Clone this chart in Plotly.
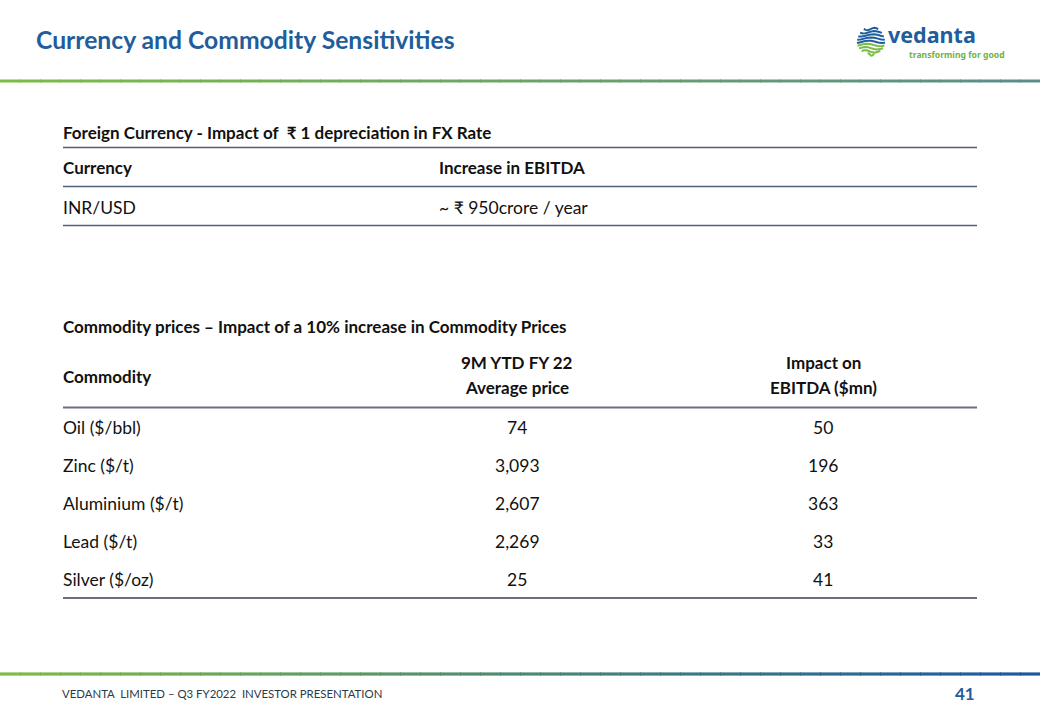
import plotly.graph_objects as go
import math

# ---------------- data ----------------
title = "Currency and Commodity Sensitivities"
fx_caption = "Foreign Currency - Impact of  ₹ 1 depreciation in FX Rate"
fx_headers = ["Currency", "Increase in EBITDA"]
fx_rows = [["INR/USD", "~ ₹ 950crore / year"]]

cm_caption = "Commodity prices – Impact of a 10% increase in Commodity Prices"
cm_header_first = "Commodity"
cm_header_price = ["9M YTD FY 22", "Average price"]
cm_header_impact = ["Impact on", "EBITDA ($mn)"]
commodities = ["Oil ($/bbl)", "Zinc ($/t)", "Aluminium ($/t)", "Lead ($/t)", "Silver ($/oz)"]
avg_price = ["74", "3,093", "2,607", "2,269", "25"]
ebitda_impact = ["50", "196", "363", "33", "41"]

footer_text = "VEDANTA  LIMITED – Q3 FY2022  INVESTOR PRESENTATION"
page_no = "41"

# ---------------- styling ----------------
W, H = 1040, 720
FONT = "Lato"
BLUE = "#1f5d9c"
TXT = "#111111"
LINE1 = "#4f6078"
LINE2 = "#6b7178"
REG = 17.5
BOLD = 17
XL = 62

fig = go.Figure()
shapes = []
ann = []


def lerp(c1, c2, t):
    a = [int(c1[i:i + 2], 16) for i in (1, 3, 5)]
    b = [int(c2[i:i + 2], 16) for i in (1, 3, 5)]
    return "#%02x%02x%02x" % tuple(round(a[k] + (b[k] - a[k]) * t) for k in range(3))


def gradient_band(y, x0, x1, c0, c1, thick, n=52):
    step = (x1 - x0) / n
    for i in range(n):
        shapes.append(dict(type="rect", xref="x", yref="y",
                           x0=x0 + i * step, x1=x0 + (i + 1) * step + 1,
                           y0=y - thick / 2, y1=y + thick / 2,
                           fillcolor=lerp(c0, c1, i / (n - 1)), line=dict(width=0)))


def hline(y, color, width=1.6, x0=63, x1=977):
    shapes.append(dict(type="line", xref="x", yref="y", x0=x0, x1=x1, y0=y, y1=y,
                       line=dict(color=color, width=width)))


def text(x, y, s, size=REG, bold=False, color=TXT, anchor="left", family=FONT):
    ann.append(dict(x=x, y=y, xref="x", yref="y", text=("<b>%s</b>" % s) if bold else s,
                    showarrow=False, xanchor=anchor, yanchor="middle", borderpad=0,
                    font=dict(family=family, size=size, color=color)))


# header band
text(35, 39, title, size=24.7, bold=True, color=BLUE)
gradient_band(81, 0, W, "#7dbb47", "#5a8e8a", 3)

# logo: globe of stripes
cx, cy, r = 871, 41, 14
for k in range(9):
    dy = -r + 2 + k * 3.2
    if abs(dy) >= r:
        continue
    half = math.sqrt(r * r - dy * dy)
    col = "#1f5d9c" if k < 5 else "#7dbb47"
    pts = []
    for j in range(9):
        xx = cx - half + j * (2 * half / 8)
        yy = cy + dy + 1.2 * math.sin(j * 0.8 + k * 0.5)
        pts.append("%s%.1f,%.1f" % ("M" if j == 0 else "L", xx, yy))
    shapes.append(dict(type="path", xref="x", yref="y", path=" ".join(pts),
                       line=dict(color=col, width=2)))
text(887, 34, "vedanta", size=21.5, bold=True, color=BLUE, family="Noto Sans")
text(908, 55, "transforming for good", size=8.6, bold=True, color="#6db33f", family="Noto Sans")

# ---------------- table 1 ----------------
text(XL, 132, fx_caption, size=BOLD, bold=True)
hline(147.5, LINE1)
fx_cols = [XL, 438]
for x, h in zip(fx_cols, fx_headers):
    text(x, 167, h, size=BOLD, bold=True)
hline(186.5, LINE1)
row_h1 = 39
for i, row in enumerate(fx_rows):
    for x, v in zip(fx_cols, row):
        text(x, 207 + i * row_h1, v)
hline(225.5, LINE1)

# ---------------- table 2 ----------------
text(XL, 326, cm_caption, size=BOLD, bold=True)
text(XL, 376, cm_header_first, size=BOLD, bold=True)
for j in range(2):
    text(517, 362 + j * 25, cm_header_price[j], size=BOLD, bold=True, anchor="center")
    text(823, 362 + j * 25, cm_header_impact[j], size=BOLD, bold=True, anchor="center")
hline(407.5, LINE2, width=2)
row_y0, row_h = 427, 38
for i in range(len(commodities)):
    y = row_y0 + i * row_h
    text(XL, y, commodities[i])
    text(517, y, avg_price[i], anchor="center")
    text(823, y, ebitda_impact[i], anchor="center")
hline(598, LINE2, width=2)

# ---------------- footer ----------------
gradient_band(674, 0, W, "#7dbb47", "#1c58a0", 3.2)
text(61, 693, footer_text, size=11.4, color="#2b3a4a")
text(976, 693, page_no, size=17, bold=True, color=BLUE, anchor="right")

fig.update_layout(
    width=W, height=H, margin=dict(l=0, r=0, t=0, b=0),
    paper_bgcolor="white", plot_bgcolor="white",
    xaxis=dict(range=[0, W], visible=False, fixedrange=True),
    yaxis=dict(range=[H, 0], visible=False, fixedrange=True),
    shapes=shapes, annotations=ann, showlegend=False,
)
fig.write_html("out.html", config={"displayModeBar": False},
               post_script="document.body.style.margin='0';")
